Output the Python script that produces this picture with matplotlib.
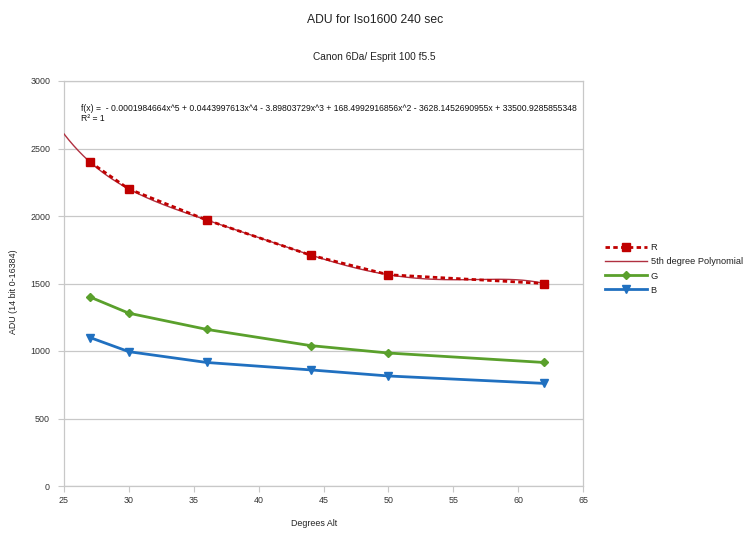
import numpy as np
import matplotlib
matplotlib.use("Agg")
import matplotlib.pyplot as plt

plt.rcParams['font.family'] = ['Liberation Sans', 'DejaVu Sans']

alt = [27, 30, 36, 44, 50, 62]
R = [2400, 2200, 1970, 1710, 1565, 1500]
G = [1400, 1280, 1160, 1040, 985, 915]
B = [1100, 995, 915, 860, 815, 760]
# trend line coefficients as printed on the chart (highest degree first)
coef = [-0.0001984664, 0.0443997613, -3.89803729, 168.4992916856,
        -3628.1452690955, 33500.9285855348]
trend_range = (25, 62)
eq_text = ("f(x) =  - 0.0001984664x^5 + 0.0443997613x^4 - 3.89803729x^3 + "
           "168.4992916856x^2 - 3628.1452690955x + 33500.9285855348\nR² = 1")

W, H = 750, 536
fig = plt.figure(figsize=(W / 100, H / 100), dpi=100)
ax = fig.add_axes([64 / W, 1 - 486 / H, (583 - 64) / W, (486 - 81) / H])

grid_c = '#c8c8c8'
ax.set_xlim(25, 65)
ax.set_ylim(0, 3000)
ax.set_xticks(range(25, 66, 5))
ax.set_yticks(range(0, 3001, 500))
ax.yaxis.grid(True, color=grid_c, lw=0.9)
ax.set_axisbelow(True)
for s in ax.spines.values():
    s.set_color(grid_c)
    s.set_linewidth(0.9)
ax.tick_params(axis='both', colors=grid_c, labelcolor='#333333', labelsize=6.4,
               length=4, width=0.8, direction='out')
ax.tick_params(axis='y', pad=6)

xs = np.linspace(trend_range[0], trend_range[1], 300)
ax.plot(xs, np.polyval(coef, xs), color='#b03040', lw=1.0, zorder=3,
        label='5th degree Polynomial')
ax.plot(alt, R, color='#c00000', lw=2.0, ls=(0, (1.6, 1.2)), marker='s', ms=5.5,
        zorder=4, label='R')
ax.plot(alt, G, color='#5aa02c', lw=2.0, marker='D', ms=3.8, zorder=4, label='G')
ax.plot(alt, B, color='#2070c0', lw=2.0, marker='v', ms=5.5, zorder=4, label='B')

fig.text(81 / W, 1 - 113.5 / H, eq_text, fontsize=6.2,
         color='#111111', va='center', ha='left', linespacing=1.15)

fig.text(375 / W, 1 - 20 / H, 'ADU for Iso1600 240 sec', ha='center', va='center',
         fontsize=8.7, color='#222222')
fig.text(374 / W, 1 - 57 / H, 'Canon 6Da/ Esprit 100 f5.5', ha='center', va='center',
         fontsize=7.3, color='#222222')
fig.text(314 / W, 1 - 523 / H, 'Degrees Alt', ha='center', va='center',
         fontsize=6.4, color='#222222')
fig.text(14 / W, 1 - 292 / H, 'ADU (14 bit 0-16384)', ha='center', va='center',
         rotation=90, fontsize=6.4, color='#222222')

handles, labels = ax.get_legend_handles_labels()
order = [1, 0, 2, 3]
leg = fig.legend([handles[i] for i in order], [labels[i] for i in order],
                 loc='center left', bbox_to_anchor=(605 / W, 1 - 269 / H),
                 frameon=False, fontsize=6.7, handlelength=4.5,
                 labelspacing=0.55, handletextpad=0.4, borderpad=0,
                 borderaxespad=0)
for t in leg.get_texts():
    t.set_color('#222222')

fig.savefig('out.png', dpi=100)
